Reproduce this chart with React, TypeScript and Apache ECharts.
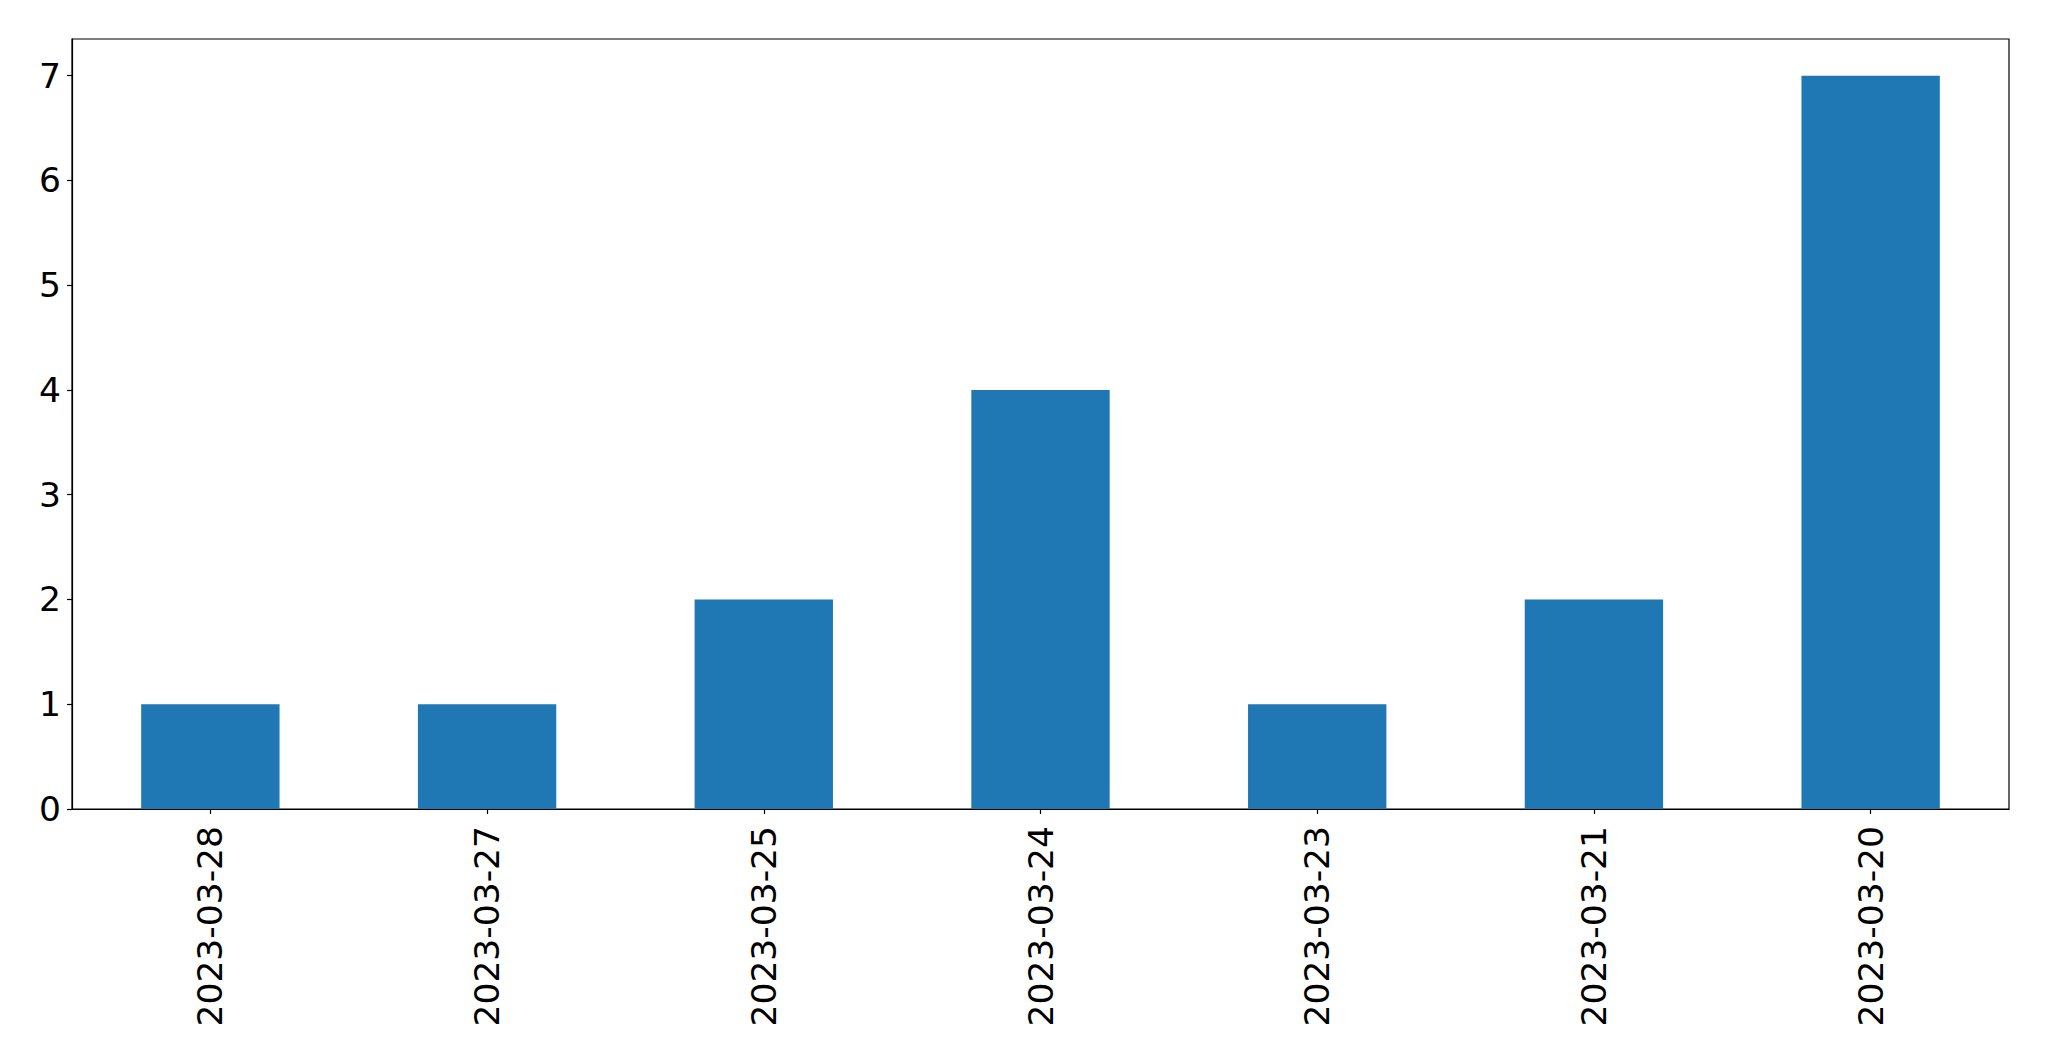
import React, { useEffect, useRef } from "react";
import * as echarts from "echarts";

const categories = ["2023-03-28", "2023-03-27", "2023-03-25", "2023-03-24", "2023-03-23", "2023-03-21", "2023-03-20"];
const values = [1, 1, 2, 4, 1, 2, 7];
const yTicks = [0, 1, 2, 3, 4, 5, 6, 7];

export default function App() {
  const ref = useRef<HTMLDivElement>(null);
  useEffect(() => {
    if (!ref.current) return;
    const chart = echarts.init(ref.current, null, { renderer: "svg" });
    const font = "DejaVu Sans";
    chart.setOption({
      animation: false,
      backgroundColor: "#ffffff",
      grid: {
        left: 72,
        right: 40,
        top: 39,
        bottom: 252,
        show: true,
        borderColor: "#000000",
        borderWidth: 1.2,
        backgroundColor: "transparent",
      },
      xAxis: {
        type: "category",
        data: categories,
        boundaryGap: true,
        axisLine: { show: true, lineStyle: { color: "#000000", width: 1.2 } },
        axisTick: { show: true, alignWithLabel: true, length: 5, lineStyle: { color: "#000000", width: 1.2 } },
        axisLabel: {
          rotate: 90,
          margin: 17,
          fontSize: 34.5,
          fontFamily: font,
          color: "#000000",
          interval: 0,
        },
        splitLine: { show: false },
      },
      yAxis: {
        type: "value",
        min: 0,
        max: 7.35,
        interval: 1,
        axisLine: { show: true, lineStyle: { color: "#000000", width: 1.2 } },
        axisTick: { show: true, length: 5, lineStyle: { color: "#000000", width: 1.2 }, customValues: yTicks },
        axisLabel: {
          margin: 11,
          fontSize: 34.5,
          fontFamily: font,
          color: "#000000",
          customValues: yTicks,
        },
        splitLine: { show: false },
      },
      series: [
        {
          type: "bar",
          data: values,
          barWidth: "50%",
          itemStyle: { color: "#1f77b4" },
        },
      ],
    });
    return () => chart.dispose();
  }, []);
  return (
    <div
      ref={ref}
      style={{ position: "fixed", left: 0, top: 0, width: 2049, height: 1061, background: "#ffffff" }}
    />
  );
}
